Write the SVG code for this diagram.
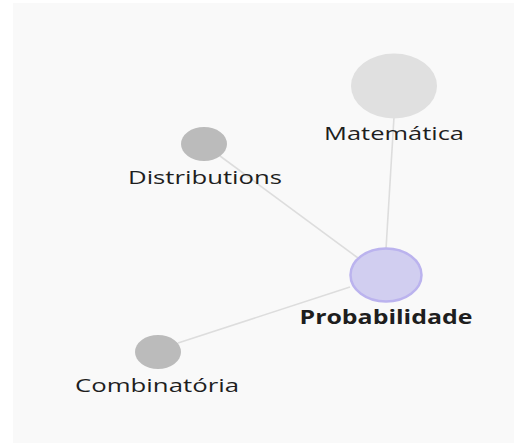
<svg xmlns="http://www.w3.org/2000/svg" width="514" height="445" viewBox="0 0 514 445">
<style>
.lbl{font-family:"Open Sans","Noto Sans","DejaVu Sans",sans-serif;font-size:19px;fill:#1e1e1e;text-anchor:middle}
.bold{font-weight:bold;font-size:20px}
.edge{stroke:#dddddd;stroke-width:1.6;fill:none}
.small{fill:#bbbbbb}
</style>
<rect x="13" y="3" width="501" height="440" fill="#f9f9f9"/>
<g id="connectors">
<line class="edge" x1="394" y1="117" x2="386" y2="249"/>
<line class="edge" x1="220" y1="156" x2="358" y2="258"/>
<line class="edge" x1="178" y1="343" x2="350" y2="287"/>
</g>
<g id="node-matematica">
<ellipse cx="394" cy="86" rx="43" ry="32.5" fill="#e0e0e0"/>
<text class="lbl" x="394" y="140" textLength="140" lengthAdjust="spacingAndGlyphs">Matemática</text>
</g>
<g id="node-distributions">
<ellipse class="small" cx="204" cy="144" rx="23" ry="17"/>
<text class="lbl" x="205" y="184" textLength="154" lengthAdjust="spacingAndGlyphs">Distributions</text>
</g>
<g id="node-probabilidade">
<ellipse cx="386" cy="275" rx="35.5" ry="26.5" fill="#d1cef0" stroke="#bbb3ee" stroke-width="2.5"/>
<text class="lbl bold" x="386" y="324" textLength="173" lengthAdjust="spacingAndGlyphs">Probabilidade</text>
</g>
<g id="node-combinatoria">
<ellipse class="small" cx="158" cy="352" rx="23" ry="17"/>
<text class="lbl" x="157" y="392" textLength="164" lengthAdjust="spacingAndGlyphs">Combinatória</text>
</g>
</svg>
